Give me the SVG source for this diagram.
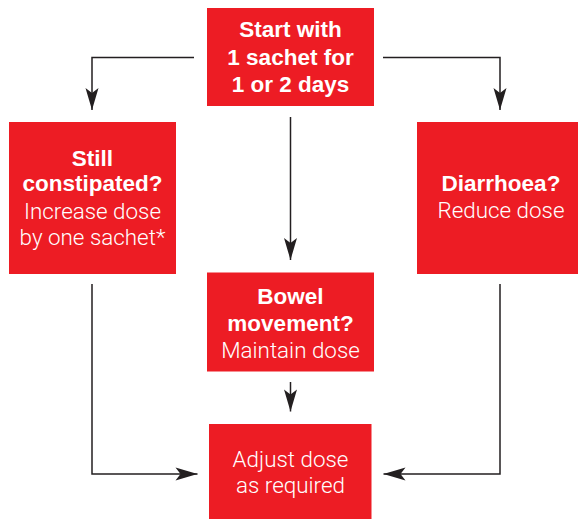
<svg xmlns="http://www.w3.org/2000/svg" width="578" height="519" viewBox="0 0 578 519">
<style>
.box{fill:#ed1c24}
.b{font-family:"Liberation Sans",Arial,sans-serif;font-weight:700;font-size:22.5px;fill:#fff;text-anchor:middle}
.l{font-family:Roboto,"Liberation Sans",sans-serif;font-weight:300;font-size:22.4px;fill:#fff;text-anchor:middle}
.c{fill:none;stroke:#231f20;stroke-width:1.5}
</style>
<defs>
<marker id="ah" viewBox="-23 -7 24 14" refX="0" refY="0" markerWidth="24" markerHeight="14" markerUnits="userSpaceOnUse" orient="auto">
<path d="M0,0 L-22,-6.5 L-17,0 L-22,6.5 Z" fill="#231f20"/>
</marker>
</defs>
<g id="connectors">
<path class="c" d="M194,57.5 H92 V110" marker-end="url(#ah)"/>
<path class="c" d="M383,57.5 H500 V110" marker-end="url(#ah)"/>
<path class="c" d="M290.5,117 V260" marker-end="url(#ah)"/>
<path class="c" d="M290.5,382 V411.5" marker-end="url(#ah)"/>
<path class="c" d="M92,284 V474 H197.5" marker-end="url(#ah)"/>
<path class="c" d="M500,284 V474 H383.5" marker-end="url(#ah)"/>
</g>
<g id="start">
<rect class="box" x="207" y="8" width="167" height="98"/>
<text class="b" x="290.5" y="37">Start with</text>
<text class="b" x="290.5" y="65">1 sachet for</text>
<text class="b" x="290.5" y="92">1 or 2 days</text>
</g>
<g id="constipated">
<rect class="box" x="9" y="122" width="167" height="152"/>
<text class="b" x="92.5" y="166">Still</text>
<text class="b" x="92.5" y="191">constipated?</text>
<text class="l" x="92.5" y="219">Increase dose</text>
<text class="l" x="92.5" y="245">by one sachet*</text>
</g>
<g id="diarrhoea">
<rect class="box" x="417" y="122" width="170" height="152"/>
<text class="b" x="501" y="191">Diarrhoea?</text>
<text class="l" x="501" y="218">Reduce dose</text>
</g>
<g id="bowel">
<rect class="box" x="207" y="272.5" width="167" height="99"/>
<text class="b" x="290.5" y="304">Bowel</text>
<text class="b" x="290.5" y="331">movement?</text>
<text class="l" x="290.5" y="357.5">Maintain dose</text>
</g>
<g id="adjust">
<rect class="box" x="209" y="424" width="162.5" height="100"/>
<text class="l" x="290.5" y="467">Adjust dose</text>
<text class="l" x="290.5" y="493">as required</text>
</g>
</svg>
